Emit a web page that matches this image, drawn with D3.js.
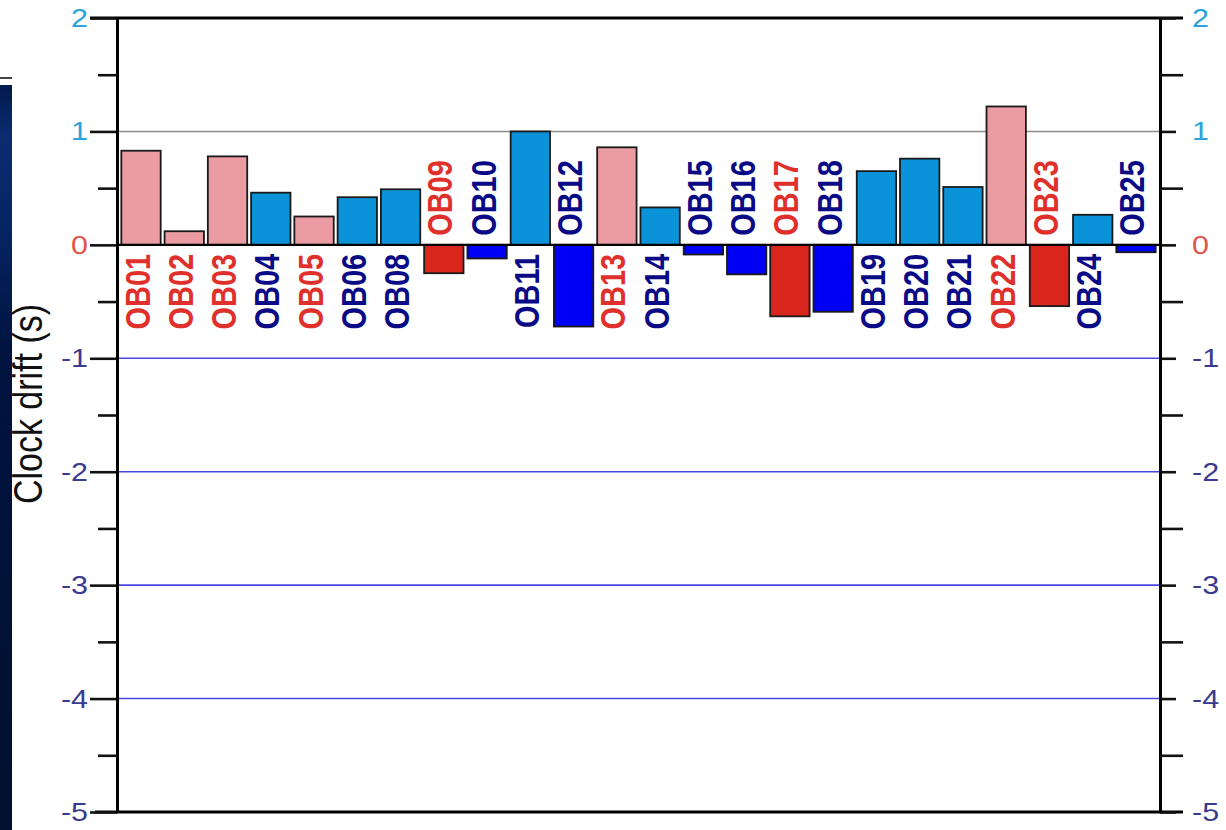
<!DOCTYPE html>
<html>
<head>
<meta charset="utf-8">
<script src="https://cdn.jsdelivr.net/npm/d3@7"></script>
<style>
  html, body { margin: 0; padding: 0; background: #fff; }
  svg { display: block; font-family: "Liberation Sans", Arial, sans-serif; }
</style>
</head>
<body>
<svg id="chart" width="1226" height="830"></svg>
<script>
// Station names along the x axis (OB07 is absent)
const stations = ["OB01","OB02","OB03","OB04","OB05","OB06","OB08","OB09","OB10","OB11","OB12","OB13",
                  "OB14","OB15","OB16","OB17","OB18","OB19","OB20","OB21","OB22","OB23","OB24","OB25"];
// Clock drift per station, seconds
const drift = [0.83, 0.12, 0.78, 0.46, 0.25, 0.42, 0.49, -0.25, -0.12, 1.00, -0.72, 0.86,
               0.33, -0.085, -0.26, -0.63, -0.59, 0.65, 0.76, 0.51, 1.22, -0.54, 0.265, -0.065];
// Stations drawn in the red group; all others are in the blue group
const redGroup = ["OB01","OB02","OB03","OB05","OB09","OB13","OB17","OB22","OB23"];
// Y axis ticks
const majorTicks = [-5, -4, -3, -2, -1, 0, 1, 2];
const minorTicks = [-4.5, -3.5, -2.5, -1.5, -0.5, 0.5, 1.5];
const axisTitle = "Clock drift (s)";

const W = 1226, H = 830;
const plotLeft = 117, plotRight = 1160, plotTop = 18, plotBottom = 812;
const SX = 1.22; // horizontal stretch of all lettering

const svg = d3.select("#chart");

// dark backdrop strip along the left edge
const defs = svg.append("defs");
const g1 = defs.append("linearGradient").attr("id", "strip").attr("x1", 0).attr("y1", 0).attr("x2", 0).attr("y2", 1);
g1.append("stop").attr("offset", "0").attr("stop-color", "#021a4c");
g1.append("stop").attr("offset", "0.07").attr("stop-color", "#0a2c70");
g1.append("stop").attr("offset", "0.2").attr("stop-color", "#062462");
g1.append("stop").attr("offset", "0.35").attr("stop-color", "#011440");
g1.append("stop").attr("offset", "1").attr("stop-color", "#00102e");
svg.append("rect").attr("x", 0).attr("y", 85).attr("width", 12).attr("height", H - 85).attr("fill", "url(#strip)");
svg.append("line").attr("x1", 0).attr("x2", 12).attr("y1", 78).attr("y2", 78).attr("stroke", "#444").attr("stroke-width", 2);

const x = d3.scaleBand().domain(stations).range([plotLeft, plotRight]).paddingInner(0.09).paddingOuter(0.1);
const y = d3.scaleLinear().domain([-5, 2]).range([plotBottom, plotTop]);

const data = stations.map((s, i) => ({ name: s, v: drift[i], red: redGroup.includes(s) }));

// reference lines
svg.append("line").attr("x1", plotLeft).attr("x2", plotRight).attr("y1", y(1)).attr("y2", y(1))
  .attr("stroke", "#8c8c8c").attr("stroke-width", 1.6);
svg.selectAll("line.grid").data([-1, -2, -3, -4]).join("line").attr("class", "grid")
  .attr("x1", plotLeft).attr("x2", plotRight).attr("y1", d => y(d)).attr("y2", d => y(d))
  .attr("stroke", "#4848e0").attr("stroke-width", 1.6);

// bars
function barColor(d) {
  if (d.red) return d.v >= 0 ? "#ea9ca2" : "#d8261d";
  return d.v >= 0 ? "#0a93d8" : "#0000f4";
}
svg.selectAll("rect.bar").data(data).join("rect").attr("class", "bar")
  .attr("x", d => x(d.name))
  .attr("width", x.bandwidth())
  .attr("y", d => y(Math.max(0, d.v)))
  .attr("height", d => Math.abs(y(d.v) - y(0)))
  .attr("fill", barColor)
  .attr("stroke", "#1a1a1a").attr("stroke-width", 1.8);

// zero line
svg.append("line").attr("x1", plotLeft).attr("x2", plotRight).attr("y1", y(0)).attr("y2", y(0))
  .attr("stroke", "#000").attr("stroke-width", 2.2);

// station labels, rotated, placed on the side opposite the bar
svg.selectAll("text.stn").data(data).join("text").attr("class", "stn")
  .attr("transform", d => {
    const cx = x(d.name) + x.bandwidth() / 2 + 8.5;
    const cy = d.v >= 0 ? y(0) + 9 : y(0) - 9;
    return `translate(${cx},${cy}) scale(${SX},1) rotate(-90)`;
  })
  .attr("text-anchor", d => d.v >= 0 ? "end" : "start")
  .attr("font-size", 29).attr("font-weight", "bold")
  .attr("fill", d => d.red ? "#e0302c" : "#0a0a86")
  .text(d => d.name);

// plot frame
svg.append("line").attr("x1", 90).attr("x2", 1183).attr("y1", y(2)).attr("y2", y(2)).attr("stroke", "#000").attr("stroke-width", 3);
svg.append("line").attr("x1", 95).attr("x2", 1183).attr("y1", y(-5)).attr("y2", y(-5)).attr("stroke", "#000").attr("stroke-width", 3);

// left axis
const axL = svg.append("g").attr("transform", `translate(${plotLeft},0)`)
  .call(d3.axisLeft(y).tickValues(majorTicks).tickSize(27).tickSizeOuter(0).tickFormat(""));
const axLm = svg.append("g").attr("transform", `translate(${plotLeft},0)`)
  .call(d3.axisLeft(y).tickValues(minorTicks).tickSize(19).tickSizeOuter(0).tickFormat(""));
// right axis
const axR = svg.append("g").attr("transform", `translate(${plotRight},0)`)
  .call(d3.axisRight(y).tickValues(majorTicks).tickSize(16).tickSizeOuter(0).tickFormat(""));
const axRm = svg.append("g").attr("transform", `translate(${plotRight},0)`)
  .call(d3.axisRight(y).tickValues(minorTicks).tickSize(23).tickSizeOuter(0).tickFormat(""));
[axL, axLm, axR, axRm].forEach(a => {
  a.select(".domain").attr("stroke", "#000").attr("stroke-width", 3);
  a.selectAll(".tick line").attr("stroke", "#111").attr("stroke-width", 2.6);
});

// tick labels on both sides
function tickColor(v) {
  if (v > 0) return "#2aa2da";
  if (v === 0) return "#df5548";
  return "#3a3a8e";
}
svg.selectAll("text.tl").data(majorTicks).join("text").attr("class", "tl")
  .attr("transform", d => `translate(88,${y(d)}) scale(${SX},1)`)
  .attr("text-anchor", "end").attr("dy", "0.36em")
  .attr("font-size", 25).attr("fill", tickColor)
  .text(d => d);
svg.selectAll("text.tr").data(majorTicks).join("text").attr("class", "tr")
  .attr("transform", d => `translate(1192,${y(d)}) scale(${SX},1)`)
  .attr("text-anchor", "start").attr("dy", "0.36em")
  .attr("font-size", 25).attr("fill", tickColor)
  .text(d => d);

// axis title
svg.append("text")
  .attr("transform", `translate(42,404) scale(${SX},1) rotate(-90)`)
  .attr("text-anchor", "middle")
  .attr("font-size", 34).attr("fill", "#111")
  .text(axisTitle);
</script>
</body>
</html>
